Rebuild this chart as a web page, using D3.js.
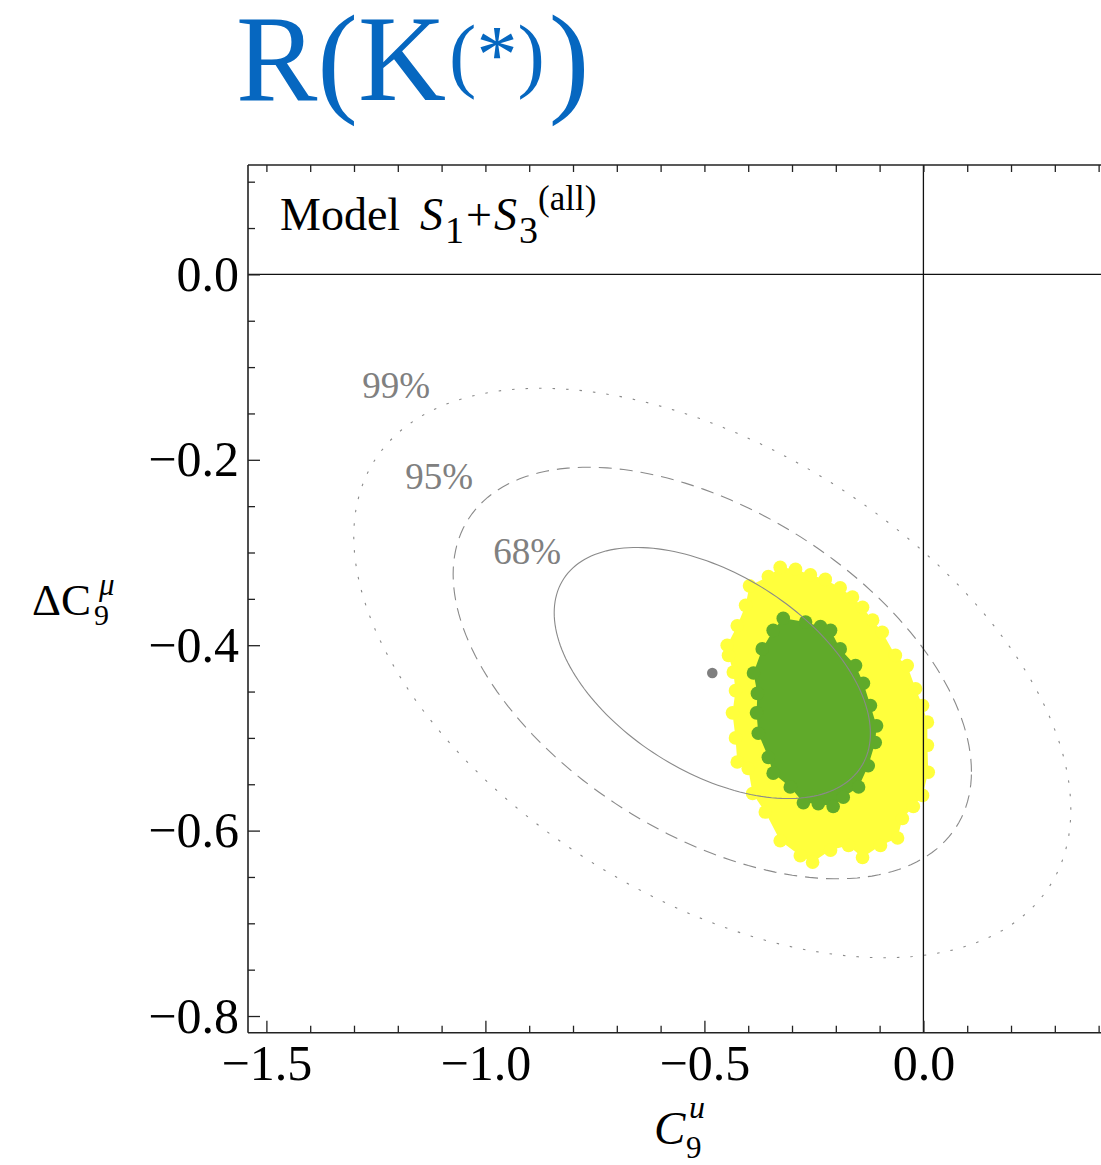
<!DOCTYPE html>
<html>
<head>
<meta charset="utf-8">
<script src="https://cdn.jsdelivr.net/npm/d3@7"></script>
<style>
  body { margin: 0; background: #fff; }
  svg { display: block; }
  text { font-family: "Liberation Serif", "Times New Roman", serif; }
</style>
</head>
<body>
<svg id="chart" width="1101" height="1165"></svg>
<script>
// axis ranges and tick labels
const xDomain = [-1.542, 0.41];
const yDomain = [0.118, -0.818];
const xTicks = [-1.5, -1.0, -0.5, 0.0];
const yTicks = [0.0, -0.2, -0.4, -0.6, -0.8];

// best fit point and the shape of the confidence contours
const bestFit = [-0.482, -0.430];
const sigmaX = 0.238;
const sigmaY = 0.0893;
const rho = -0.48;
const levelNames = ["68%", "95%", "99%"];
const levelChi2 = [2.30, 6.18, 11.83];
const levelLabelAt = [[-0.982, -0.312], [-1.183, -0.232], [-1.281, -0.133]];

// scan points, outline of the yellow (95%) and green (68%) clouds
const yellowPts = [
  [-0.327, -0.316], [-0.292, -0.318], [-0.258, -0.324], [-0.224, -0.329], [-0.190, -0.338],
  [-0.162, -0.348], [-0.139, -0.359], [-0.116, -0.373], [-0.094, -0.386], [-0.064, -0.411],
  [-0.037, -0.422], [-0.018, -0.447], [-0.002, -0.465], [0.009, -0.483], [0.009, -0.508],
  [0.011, -0.537], [-0.002, -0.562], [-0.023, -0.574], [-0.048, -0.587], [-0.059, -0.608],
  [-0.098, -0.616], [-0.139, -0.629], [-0.171, -0.616], [-0.212, -0.621], [-0.253, -0.634],
  [-0.281, -0.627], [-0.327, -0.611], [-0.361, -0.580], [-0.390, -0.560], [-0.400, -0.533],
  [-0.425, -0.526], [-0.429, -0.500], [-0.436, -0.473], [-0.429, -0.449], [-0.434, -0.429],
  [-0.445, -0.411], [-0.448, -0.400], [-0.425, -0.379], [-0.406, -0.357], [-0.397, -0.336],
  [-0.354, -0.326]
];
const greenPts = [
  [-0.320, -0.371], [-0.269, -0.375], [-0.235, -0.380], [-0.212, -0.384], [-0.190, -0.404],
  [-0.155, -0.422], [-0.137, -0.441], [-0.121, -0.465], [-0.107, -0.487], [-0.110, -0.505],
  [-0.126, -0.530], [-0.148, -0.553], [-0.183, -0.564], [-0.206, -0.574], [-0.240, -0.571],
  [-0.274, -0.570], [-0.304, -0.553], [-0.343, -0.538], [-0.354, -0.521], [-0.377, -0.495],
  [-0.381, -0.473], [-0.379, -0.452], [-0.388, -0.430], [-0.368, -0.404], [-0.343, -0.384]
];

const svg = d3.select("#chart");
const x = d3.scaleLinear().domain(xDomain).range([248, 1103]);
const y = d3.scaleLinear().domain(yDomain).range([165, 1032.7]);
const frameTop = y(yDomain[0]), frameBottom = y(yDomain[1]), frameLeft = x(xDomain[0]);

// title
const title = svg.append("text")
  .attr("x", 236).attr("y", 100)
  .attr("font-size", 122).attr("fill", "#0667c0")
  .text("R(K");
title.append("tspan").attr("font-size", 82).attr("dy", -18).attr("dx", 3).text("(*)");
title.append("tspan").attr("font-size", 122).attr("dy", 18).attr("dx", 4).text(")");

// scan clouds
function cloud(pts, color) {
  const g = svg.append("g");
  g.append("path")
    .attr("d", d3.line().x(d => x(d[0])).y(d => y(d[1])).curve(d3.curveLinearClosed)(pts))
    .attr("fill", color);
  g.selectAll("circle").data(pts).join("circle")
    .attr("cx", d => x(d[0])).attr("cy", d => y(d[1]))
    .attr("r", 6.8).attr("fill", color);
}
cloud(yellowPts, "#ffff3c");
cloud(greenPts, "#60aa2a");

// contours
const contourStyle = [null, "13,8", "2.5,11"];
levelChi2.forEach((c2, i) => {
  const k = Math.sqrt(c2);
  const pts = d3.range(0, 361, 2).map(a => {
    const t = a * Math.PI / 180;
    return [bestFit[0] + k * sigmaX * Math.cos(t),
            bestFit[1] + k * sigmaY * (rho * Math.cos(t) + Math.sqrt(1 - rho * rho) * Math.sin(t))];
  });
  svg.append("path")
    .attr("d", d3.line().x(d => x(d[0])).y(d => y(d[1])).curve(d3.curveLinearClosed)(pts))
    .attr("fill", "none")
    .attr("stroke", "#8a8a8a")
    .attr("stroke-width", 1.1)
    .attr("stroke-dasharray", contourStyle[i]);
  svg.append("text")
    .attr("x", x(levelLabelAt[i][0])).attr("y", y(levelLabelAt[i][1]))
    .attr("font-size", 37).attr("fill", "#808080")
    .text(levelNames[i]);
});

svg.append("circle")
  .attr("cx", x(bestFit[0])).attr("cy", y(bestFit[1]))
  .attr("r", 5.3).attr("fill", "#7f7f7f");

// zero lines
svg.append("line")
  .attr("x1", frameLeft).attr("x2", 1101).attr("y1", y(0)).attr("y2", y(0))
  .attr("stroke", "#111").attr("stroke-width", 1.3);
svg.append("line")
  .attr("x1", x(0)).attr("x2", x(0)).attr("y1", frameTop).attr("y2", frameBottom)
  .attr("stroke", "#111").attr("stroke-width", 1.3);

// axes
const xMinor = d3.range(-15, 5).map(i => i / 10).filter(v => !xTicks.some(t => Math.abs(t - v) < 1e-9));
const yMinor = d3.range(2, -17, -1).map(i => i / 20).filter(v => !yTicks.some(t => Math.abs(t - v) < 1e-9));
const fmt = d3.format(".1f");

function styleAxis(g) {
  g.select(".domain").remove();
  g.selectAll(".tick line").attr("stroke", "#222").attr("stroke-width", 1.3);
  g.selectAll(".tick text").attr("fill", "#000").attr("font-size", 50)
    .attr("font-family", "Liberation Serif, Times New Roman, serif");
}

svg.append("g").attr("transform", `translate(0,${frameBottom})`)
  .call(d3.axisBottom(x).tickValues(xTicks).tickFormat(fmt).tickSizeInner(-12).tickSizeOuter(0).tickPadding(12))
  .call(styleAxis);
svg.append("g").attr("transform", `translate(0,${frameBottom})`)
  .call(d3.axisBottom(x).tickValues(xMinor).tickFormat("").tickSizeInner(-7).tickSizeOuter(0))
  .call(styleAxis);
svg.append("g").attr("transform", `translate(0,${frameTop})`)
  .call(d3.axisTop(x).tickValues(xTicks.concat(xMinor)).tickFormat("").tickSizeInner(-7).tickSizeOuter(0))
  .call(styleAxis);

svg.append("g").attr("transform", `translate(${frameLeft},0)`)
  .call(d3.axisLeft(y).tickValues(yTicks).tickFormat(fmt).tickSizeInner(-12).tickSizeOuter(0).tickPadding(9))
  .call(styleAxis);
svg.append("g").attr("transform", `translate(${frameLeft},0)`)
  .call(d3.axisLeft(y).tickValues(yMinor).tickFormat("").tickSizeInner(-7).tickSizeOuter(0))
  .call(styleAxis);

// frame
const frame = svg.append("g").attr("stroke", "#222").attr("stroke-width", 1.6);
frame.append("line").attr("x1", frameLeft).attr("x2", frameLeft).attr("y1", frameTop).attr("y2", frameBottom);
frame.append("line").attr("x1", frameLeft).attr("x2", 1101).attr("y1", frameTop).attr("y2", frameTop);
frame.append("line").attr("x1", frameLeft).attr("x2", 1101).attr("y1", frameBottom).attr("y2", frameBottom);

// model label
const model = svg.append("text").attr("x", 280).attr("y", 230).attr("font-size", 46).attr("fill", "#000");
model.append("tspan").text("Model");
model.append("tspan").attr("font-style", "italic").attr("dx", 20).text("S");
model.append("tspan").attr("font-size", 38).attr("dy", 13).attr("dx", 2).text("1");
model.append("tspan").attr("dy", -13).attr("dx", 2).text("+");
model.append("tspan").attr("font-style", "italic").attr("dx", 2).text("S");
model.append("tspan").attr("font-size", 38).attr("dy", 13).attr("dx", 2).text("3");
model.append("tspan").attr("font-size", 35).attr("dy", -33).text("(all)");

// axis labels
svg.append("text").attr("x", 32).attr("y", 615).attr("font-size", 45).text("ΔC");
svg.append("text").attr("x", 94).attr("y", 625).attr("font-size", 30).text("9");
svg.append("text").attr("x", 99).attr("y", 595).attr("font-size", 31).attr("font-style", "italic").text("μ");

svg.append("text").attr("x", 654).attr("y", 1144).attr("font-size", 47).attr("font-style", "italic").text("C");
svg.append("text").attr("x", 686).attr("y", 1158).attr("font-size", 31).text("9");
svg.append("text").attr("x", 689).attr("y", 1118).attr("font-size", 32).attr("font-style", "italic").text("u");
</script>
</body>
</html>
